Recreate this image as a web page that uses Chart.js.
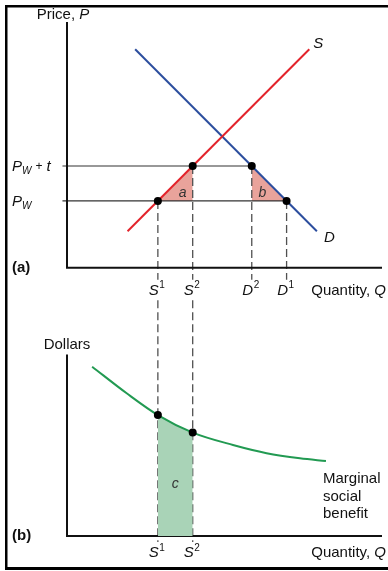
<!DOCTYPE html>
<html>
<head>
<meta charset="utf-8">
<script src="https://cdn.jsdelivr.net/npm/chart.js@4/dist/chart.umd.min.js"></script>
<style>
  html, body { margin: 0; padding: 0; background: #fff; overflow: hidden; }
  canvas { display: block; }
</style>
</head>
<body>
<canvas id="c" width="388" height="571"></canvas>
<script>
// ---- Panel (a): tariff on imports ----
const worldPrice = 22;          // P_W
const tariff = 11.5;            // t
const supplyQ = [20, 80];
const supplyP = [12, 72];
const demandQ = [22.5, 82.5];
const demandP = [72, 12];
// quantities read at the two prices: S1, S2, D2, D1
const tickQ = [30, 41.5, 61, 72.5];
const tickBase = ['S', 'S', 'D', 'D'];
const tickSup = ['1', '2', '2', '1'];

// ---- Panel (b): marginal social benefit ----
const msbQ = [8.3, 19.7, 30, 41.5, 54.8, 65.9, 76.9, 85.5];
const msbD = [56, 47.2, 40, 34.2, 30.1, 27.4, 25.7, 24.8];
const msbTickQ = [30, 41.5];
const msbTickBase = ['S', 'S'];
const msbTickSup = ['1', '2'];

// axis extents
const qMax = 104;
const priceAxisTop = 81;
const dollarAxisTop = 60;

const FONT = '"Liberation Sans", Arial, Helvetica, sans-serif';
const RED = '#e3232b', BLUE = '#2c4e9e', GREEN = '#229a52';
const GREEN_FILL = '#a9d3b7', PINK = '#e9a39b';
const DASH = '#505050', HLINE = '#333', AXIS = '#111';

const PwT = worldPrice + tariff;
const [S1, S2, D2, D1] = tickQ;
const pts = (xs, ys) => xs.map((x, i) => ({ x, y: ys[i] }));

const lineDs = (data, color, width, axis, extra) => Object.assign({
  data, borderColor: color, borderWidth: width, showLine: true,
  pointRadius: 0, yAxisID: axis, fill: false, clip: false, order: 5
}, extra || {});

const datasets = [
  // panel (a) axes
  lineDs([{ x: 0, y: priceAxisTop }, { x: 0, y: 0 }, { x: qMax, y: 0 }], AXIS, 2, 'yP'),
  // panel (b) axes
  lineDs([{ x: 0, y: dollarAxisTop }, { x: 0, y: 0 }, { x: qMax, y: 0 }], AXIS, 2, 'yD'),
  // price lines
  lineDs([{ x: -1.5, y: PwT }, { x: D2, y: PwT }], HLINE, 1.1, 'yP'),
  lineDs([{ x: -1.5, y: worldPrice }, { x: D1, y: worldPrice }], HLINE, 1.1, 'yP'),
  // deadweight triangles a and b
  lineDs([{ x: S1, y: worldPrice }, { x: S2, y: PwT }], 'rgba(0,0,0,0)', 0, 'yP',
    { fill: { value: worldPrice }, backgroundColor: PINK, order: 9 }),
  lineDs([{ x: D2, y: PwT }, { x: D1, y: worldPrice }], 'rgba(0,0,0,0)', 0, 'yP',
    { fill: { value: worldPrice }, backgroundColor: PINK, order: 9 }),
  // dashed guides in panel (a)
  lineDs([{ x: S1, y: worldPrice }, { x: S1, y: -4 }], DASH, 1.3, 'yP', { borderDash: [8, 4] }),
  lineDs([{ x: S2, y: PwT }, { x: S2, y: -4 }], DASH, 1.3, 'yP', { borderDash: [8, 4] }),
  lineDs([{ x: D2, y: PwT }, { x: D2, y: -4 }], DASH, 1.3, 'yP', { borderDash: [8, 4] }),
  lineDs([{ x: D1, y: worldPrice }, { x: D1, y: -4 }], DASH, 1.3, 'yP', { borderDash: [8, 4] }),
  // dashed guides carried into panel (b)
  lineDs([{ x: S1, y: 78 }, { x: S1, y: -2 }], DASH, 1.3, 'yD', { borderDash: [8, 4] }),
  lineDs([{ x: S2, y: 78 }, { x: S2, y: -2 }], DASH, 1.3, 'yD', { borderDash: [8, 4] }),
  // supply and demand
  lineDs(pts(supplyQ, supplyP), RED, 2, 'yP', { order: 4 }),
  lineDs(pts(demandQ, demandP), BLUE, 2, 'yP', { order: 4 }),
  // marginal social benefit, area c shaded between S1 and S2
  lineDs(pts(msbQ, msbD), GREEN, 2, 'yD', {
    cubicInterpolationMode: 'monotone', order: 4,
    fill: 'origin', backgroundColor: 'rgba(0,0,0,0)',
    segment: {
      backgroundColor: c => (msbQ[c.p0DataIndex] >= S1 && msbQ[c.p1DataIndex] <= S2) ? GREEN_FILL : 'rgba(0,0,0,0)'
    }
  }),
  // dots
  { data: [{ x: S1, y: worldPrice }, { x: S2, y: PwT }, { x: D2, y: PwT }, { x: D1, y: worldPrice }],
    yAxisID: 'yP', pointRadius: 4, pointBackgroundColor: '#000', pointBorderWidth: 0,
    showLine: false, clip: false, order: 1 },
  { data: msbQ.map((q, i) => ({ x: q, y: msbD[i] })).filter(p => msbTickQ.includes(p.x)),
    yAxisID: 'yD', pointRadius: 4, pointBackgroundColor: '#000', pointBorderWidth: 0,
    showLine: false, clip: false, order: 1 }
];

// draws a run of text pieces (italic / sub / superscript) starting at x
function rich(ctx, x, y, parts, align) {
  let w = 0;
  parts.forEach(p => { ctx.font = `${p.st || ''} ${p.sz || 15}px ${FONT}`; p.w = ctx.measureText(p.t).width; w += p.w + (p.gap || 0); });
  let cx = align === 'center' ? x - w / 2 : align === 'right' ? x - w : x;
  parts.forEach(p => {
    ctx.font = `${p.st || ''} ${p.sz || 15}px ${FONT}`;
    ctx.fillText(p.t, cx, y + (p.dy || 0));
    cx += p.w + (p.gap || 0);
  });
}

// open frame: top, left and bottom rules
const frame = {
  id: 'frame',
  beforeDraw(chart) {
    const { ctx, width, height } = chart;
    ctx.save();
    ctx.fillStyle = '#fff';
    ctx.fillRect(0, 0, width, height);
    ctx.fillStyle = '#000';
    ctx.fillRect(5, 5, width - 5, 2.5);
    ctx.fillRect(5, 5, 2.5, height - 9);
    ctx.fillRect(5, height - 4, width - 5, 3);
    ctx.restore();
  }
};

const labels = {
  id: 'labels',
  afterDatasetsDraw(chart) {
    const { ctx, scales: { x, yP, yD } } = chart;
    ctx.save();
    ctx.fillStyle = '#111';
    ctx.textBaseline = 'middle';
    ctx.textAlign = 'left';
    const X = v => x.getPixelForValue(v);

    // axis titles
    rich(ctx, X(0) - 4, yP.getPixelForValue(priceAxisTop) - 7,
      [{ t: 'Price, ' }, { t: 'P', st: 'italic' }], 'center');
    rich(ctx, X(0), yD.getPixelForValue(dollarAxisTop) - 10, [{ t: 'Dollars' }], 'center');
    rich(ctx, X(qMax) + 4, yP.getPixelForValue(0) + 23,
      [{ t: 'Quantity, ' }, { t: 'Q', st: 'italic' }], 'right');
    rich(ctx, X(qMax) + 4, yD.getPixelForValue(0) + 17,
      [{ t: 'Quantity, ' }, { t: 'Q', st: 'italic' }], 'right');

    // panel tags
    rich(ctx, 12, yP.getPixelForValue(0), [{ t: '(a)', st: 'bold' }], 'left');
    rich(ctx, 12, yD.getPixelForValue(0), [{ t: '(b)', st: 'bold' }], 'left');

    // price labels
    rich(ctx, 12, yP.getPixelForValue(PwT) + 1,
      [{ t: 'P', st: 'italic' }, { t: 'W', st: 'italic', sz: 10, dy: 4, gap: 4 },
       { t: '+', sz: 12, gap: 4 }, { t: 't', st: 'italic' }], 'left');
    rich(ctx, 12, yP.getPixelForValue(worldPrice) + 1,
      [{ t: 'P', st: 'italic' }, { t: 'W', st: 'italic', sz: 10, dy: 4 }], 'left');

    // curve names
    const sEnd = { x: X(supplyQ[1]), y: yP.getPixelForValue(supplyP[1]) };
    rich(ctx, sEnd.x + 4, sEnd.y - 5, [{ t: 'S', st: 'italic' }], 'left');
    const dEnd = { x: X(demandQ[1]), y: yP.getPixelForValue(demandP[1]) };
    rich(ctx, dEnd.x + 7, dEnd.y + 7, [{ t: 'D', st: 'italic' }], 'left');
    const mEnd = { x: X(msbQ[msbQ.length - 1]), y: yD.getPixelForValue(msbD[msbD.length - 1]) };
    ['Marginal', 'social', 'benefit'].forEach((t, i) =>
      rich(ctx, mEnd.x - 3, mEnd.y + 18 + i * 17.5, [{ t }], 'left'));

    // area letters
    ctx.fillStyle = '#333';
    rich(ctx, X((S1 + 2 * S2) / 3) + 1.5, yP.getPixelForValue((2 * worldPrice + PwT) / 3) + 4,
      [{ t: 'a', st: 'italic', sz: 14 }], 'center');
    rich(ctx, X((2 * D2 + D1) / 3) - 1, yP.getPixelForValue((2 * worldPrice + PwT) / 3) + 4,
      [{ t: 'b', st: 'italic', sz: 14 }], 'center');
    rich(ctx, X((S1 + S2) / 2), yD.getPixelForValue(17),
      [{ t: 'c', st: 'italic', sz: 14 }], 'center');

    // quantity tick labels
    ctx.fillStyle = '#111';
    const tick = (q, base, sup, y) =>
      rich(ctx, X(q) - 1, y, [{ t: base, st: 'italic', gap: 0.5 }, { t: sup, sz: 10, dy: -5 }], 'center');
    tickQ.forEach((q, i) => tick(q, tickBase[i], tickSup[i], yP.getPixelForValue(0) + 23));
    msbTickQ.forEach((q, i) => tick(q, msbTickBase[i], msbTickSup[i], yD.getPixelForValue(0) + 17));
    ctx.restore();
  }
};

new Chart(document.getElementById('c'), {
  type: 'scatter',
  data: { datasets },
  options: {
    responsive: false,
    animation: false,
    events: [],
    layout: { padding: { left: 67, right: 388 - 382, top: 22, bottom: 571 - 536 } },
    plugins: { legend: { display: false }, tooltip: { enabled: false } },
    scales: {
      x: { type: 'linear', display: false, min: 0, max: qMax },
      yP: { type: 'linear', display: false, min: -88.5, max: priceAxisTop },
      yD: { type: 'linear', display: false, min: 0, max: 170 }
    }
  },
  plugins: [frame, labels]
});
</script>
</body>
</html>
